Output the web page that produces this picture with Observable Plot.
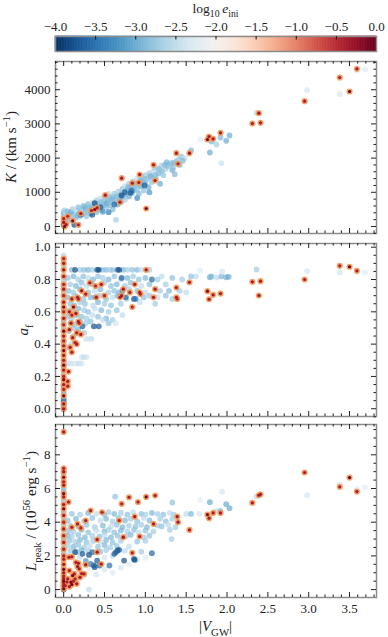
<!DOCTYPE html>
<html><head><meta charset="utf-8">
<script src="https://cdn.jsdelivr.net/npm/d3@7"></script>
<script src="https://cdn.jsdelivr.net/npm/@observablehq/plot@0.6"></script>
<style>
body{margin:0;background:#fff;}
#chart{width:388px;height:637px;}
#chart svg{display:block;overflow:visible;}
</style></head><body><div id="chart"></div>
<script>
// ---------- data: [|V_GW|, value, log10 e_ini] ----------
const kBlue = [
[0,40,-2.7],[0,110,-2.35],[0,190,-2.9],[0.01,260,-2.5],[0,330,-2.8],[0,410,-2.9],[0.01,470,-2.7],[0.02,150,-3.0],[0.03,360,-2.5],[0.04,250,-2.8],[0.05,440,-2.9],
[0.07,310,-2.8],[0.09,420,-3.0],[0.1,200,-2.5],[0.11,510,-2.7],[0.13,350,-2.9],[0.15,250,-2.8],[0.16,450,-2.5],[0.18,560,-2.9],[0.19,380,-3.0],[0.2,290,-2.7],
[0.22,480,-2.8],[0.24,600,-2.9],[0.25,400,-2.5],[0.27,520,-3.0],[0.28,300,-2.8],[0.3,650,-2.9],[0.3,450,-2.7],[0.32,580,-2.8],[0.33,380,-2.9],[0.35,700,-2.5],[0.36,500,-3.0],[0.38,620,-2.8],[0.4,420,-2.9],[0.4,760,-2.7],
[0.42,560,-2.8],[0.44,680,-2.9],[0.45,820,-2.5],[0.47,480,-3.0],[0.48,620,-2.8],[0.5,740,-2.9],[0.5,880,-2.7],[0.52,560,-2.8],[0.53,680,-3.1],[0.55,800,-2.9],[0.55,950,-2.5],[0.57,620,-2.9],[0.58,720,-2.8],[0.6,860,-3.0],[0.6,500,-2.9],[0.62,960,-2.7],
[0.63,760,-2.8],[0.65,880,-2.9],[0.66,640,-3.0],[0.67,1020,-2.7],[0.68,800,-2.8],[0.7,940,-2.9],[0.7,720,-3.1],[0.72,1100,-2.8],[0.73,860,-2.9],[0.75,780,-2.7],[0.75,1180,-2.5],[0.77,960,-2.9],[0.78,1080,-2.8],[0.8,880,-3.0],[0.8,1250,-2.7],
[0.82,1150,-2.9],[0.84,980,-2.8],[0.85,1320,-2.7],[0.86,1060,-3.0],[0.88,1200,-2.9],[0.9,1100,-2.8],[0.9,1400,-2.5],[0.92,960,-2.9],[0.93,1280,-2.8],[0.95,1180,-3.0],[0.96,1450,-2.7],[0.97,1330,-2.9],[0.98,1050,-2.8],[1.0,1250,-2.9],[1.0,1500,-2.7],
[1.02,1380,-2.8],[1.04,1150,-3.0],[1.05,1560,-2.7],[1.07,1450,-2.9],[1.08,1300,-2.8],[1.1,1620,-2.5],[1.12,1500,-2.9],[1.13,1400,-2.8],[1.15,1700,-2.7],[1.16,1550,-2.9],[1.18,1250,-3.0],[1.2,1780,-2.7],[1.2,1620,-2.9],
[1.22,1500,-2.8],[1.24,1800,-2.9],[1.25,1680,-2.7],[1.27,1760,-2.8],[1.28,1820,-2.9],[1.3,1780,-2.7],[1.32,1860,-2.8],[1.33,1650,-3.0],[1.35,1850,-2.9],[1.36,1530,-2.9],[1.38,1900,-2.8],[1.4,1950,-2.7],[1.42,1800,-2.9],[1.44,2040,-2.8],[1.48,2000,-2.5],
[0.05,150,-2.8],[0.08,380,-2.9],[0.12,280,-2.7],[0.17,320,-2.9],[0.23,360,-2.8],[0.26,560,-2.9],[0.29,410,-2.8],[0.34,540,-2.9],[0.37,660,-2.7],[0.43,500,-2.9],[0.46,720,-2.8],[0.51,640,-2.9],[0.56,860,-2.8],[0.59,780,-2.9],[0.64,700,-2.8],[0.69,870,-2.9],[0.74,1000,-2.8],[0.79,1150,-2.9],[0.83,1080,-2.7],[0.87,1250,-2.8],[0.94,1350,-2.9],[0.99,1400,-2.8],[1.06,1480,-2.9],[1.11,1720,-2.7],[1.17,1680,-2.8],[1.26,1880,-2.9],[1.34,1720,-2.8],[1.46,1920,-2.9],
[0.64,195,-2.7],
[1.56,2222,-2.9],[1.67,2544,-2.25],[1.81,2485,-2.9],[1.87,2398,-2.7],[1.79,2164,-3.0],[1.92,2602,-2.9],[1.99,2506,-3.0],[2.03,2661,-3.0],[1.93,1851,-2.4],[2.36,3324,-2.5],[2.98,3985,-2.35],[3.38,3868,-2.35],[3.59,4561,-2.25],[3.69,4591,-2.25],
[0.38,682,-3.8],[0.45,565,-3.7],[0.35,341,-3.8],[0.62,643,-3.6],[0.71,906,-3.8],[0.75,1004,-3.7],[0.82,984,-3.8],[0.83,1053,-3.6],[0.99,1199,-3.7],[0.13,49,-3.8],[0.21,341,-3.5],[0,49,-3.9],[0.55,420,-3.4],[0.48,430,-3.2],[0.9,830,-3.3],[1.05,1000,-3.2]
];
const kRed = [
[1.38,2144,-0.35],[1.54,2144,-0.3],[1.10,1803,-0.35],[1.40,1832,-0.4],[0.71,1413,-0.35],[0.93,1520,-0.3],[0.92,1287,-0.35],[0.84,1267,-0.4],[1.12,1345,-0.35],[1.01,526,-0.1],[0.69,712,-0.4],[0.51,916,-0.35],[0.41,546,-0.35],[0.38,497,-0.1],[0.34,468,-0.4],[0.11,166,-0.1],[0.03,58,-0.35],[0.18,49,-0.4],[0.01,0,-0.1],[0.21,380,-0.35],[0,230,-0.4],[0,120,-0.3],[0.05,300,-0.45],
[1.76,2544,-0.1],[1.78,2632,-0.35],[1.83,2564,-0.35],[1.92,2740,-0.35],[2.39,3313,-0.3],[2.31,3012,-0.35],[2.41,3032,-0.35],[2.95,3664,-0.35],[3.38,4357,-0.4],[3.50,3947,-0.02],[3.59,4611,-0.35]
];

const aBlue = [
[0,0.95,-2.5],[0,0.92,-2.8],[0.005,0.88,-2.7],[0,0.84,-2.35],[0,0.8,-2.8],[0.005,0.79,-2.5],[0,0.76,-2.9],[0,0.72,-2.7],[0,0.68,-2.35],[0,0.62,-2.8],[0,0.58,-2.5],[0,0.54,-2.9],[0,0.5,-2.7],[0,0.41,-2.8],[0,0.35,-2.5],[0,0.29,-2.9],[0,0.22,-2.7],[0,0.1,-3.0],[0,0.05,-3.2],
[0,0.0,-3.8],[0,0.02,-3.6],[0,0.04,-3.8],[0,0.06,-3.4],[0,0.14,-3.5],[0,0.26,-3.2],
[0.1,.86,-2.9],[0.2,.86,-2.7],[0.25,.86,-2.8],[0.3,.86,-2.9],[0.35,.86,-2.7],[0.47,.86,-2.8],[0.52,.86,-2.9],[0.57,.86,-2.7],[0.6,.86,-2.8],[0.73,.86,-2.9],[0.78,.86,-2.7],[0.84,.86,-2.8],[0.9,.86,-2.9],[0.95,.86,-2.5],[1.05,.86,-2.7],
[0.05,.81,-2.8],[0.12,.82,-2.9],[0.18,.8,-2.7],[0.24,.82,-2.8],[0.3,.81,-2.5],[0.36,.8,-2.9],[0.42,.82,-2.8],[0.48,.81,-2.7],[0.55,.8,-2.9],[0.62,.82,-2.8],[0.7,.8,-2.5],[0.78,.81,-2.9],[0.85,.82,-2.7],[0.92,.8,-2.8],[1.0,.81,-2.9],[1.15,.8,-2.7],[1.2,.82,-2.5],[1.33,.81,-2.8],[1.45,.8,-2.7],[1.62,.82,-2.5],
[0.08,.77,-2.7],[0.15,.76,-2.9],[0.22,.78,-2.8],[0.28,.76,-2.5],[0.35,.77,-2.9],[0.5,.78,-2.7],[0.58,.76,-2.8],[0.65,.77,-2.9],[0.75,.76,-2.7],[0.82,.78,-2.8],[0.95,.76,-2.5],[1.05,.77,-2.8],[1.25,.77,-2.7],
[0.06,.73,-2.8],[0.12,.72,-2.7],[0.2,.74,-2.9],[0.3,.72,-2.8],[0.38,.73,-2.5],[0.45,.74,-2.9],[0.55,.72,-2.7],[0.62,.73,-2.8],[0.68,.72,-2.9],[0.8,.74,-2.7],[0.9,.73,-2.8],[1.0,.72,-2.5],[1.18,.73,-2.7],[1.29,.73,-2.9],[1.42,.73,-2.7],[1.5,.72,-2.5],
[0.05,.69,-2.9],[0.14,.7,-2.7],[0.24,.68,-2.8],[0.33,.69,-2.9],[0.44,.7,-2.7],[0.52,.68,-2.8],[0.6,.69,-2.5],[0.66,.7,-2.9],[0.77,.68,-2.7],[0.98,.69,-2.8],[1.05,.7,-2.7],[1.15,.69,-2.5],[1.25,.7,-2.8],[1.33,.68,-2.7],
[0.08,.65,-2.8],[0.13,.64,-2.9],[0.2,.66,-2.7],[0.26,.65,-2.8],[0.36,.64,-2.5],[0.42,.66,-2.9],[0.5,.65,-2.7],[0.58,.64,-2.8],[0.7,.65,-2.7],[0.93,.66,-2.5],[1.12,.65,-2.7],
[0.06,.61,-2.7],[0.12,.6,-2.8],[0.18,.62,-2.9],[0.25,.61,-2.7],[0.3,.6,-2.8],[0.38,.62,-2.5],[0.46,.61,-2.9],[0.55,.6,-2.7],[0.65,.61,-2.8],[0.72,.58,-2.5],
[0.05,.57,-2.8],[0.1,.56,-2.7],[0.16,.58,-2.9],[0.22,.57,-2.8],[0.28,.56,-2.7],[0.35,.58,-2.5],[0.42,.57,-2.8],[0.52,.56,-2.9],[0.6,.55,-2.7],
[0.08,.53,-2.7],[0.13,.52,-2.8],[0.2,.54,-2.9],[0.27,.53,-2.7],[0.33,.54,-2.8],[0.48,.55,-2.5],[0.55,.53,-2.8],[0.64,.53,-2.35],
[0.06,.48,-2.8],[0.12,.5,-2.7],[0.18,.49,-2.9],[0.25,.47,-2.7],
[0.27,.433,-2.35],[0.3,.433,-2.35],[0.34,.433,-2.5],[0.22,.32,-2.35],[0.25,.32,-2.5],[0.28,.32,-2.35],[0.06,.28,-2.5],[0.1,.28,-2.35],[0.14,.28,-2.35],[0.19,.28,-2.5],[0.22,.28,-2.35],[0.05,.38,-2.7],[0.09,.4,-2.5],[0.12,.45,-2.7],
[0.14,0.86,-3.8],[0.41,0.86,-3.7],[0.43,0.86,-3.8],[0.66,0.86,-3.6],[0.68,0.86,-3.8],[0.71,0.81,-3.7],[1.08,0.80,-3.6],[0.39,0.69,-3.5],[0.76,0.69,-3.6],[0.86,0.68,-3.7],[0.88,0.68,-3.5],[0.23,0.51,-3.7],[0.37,0.51,-3.8],[0.43,0.51,-3.7],[0.72,0.73,-3.3],
[1.67,0.856,-2.25],[1.56,0.819,-2.8],[1.79,0.814,-3.0],[1.81,0.819,-2.9],[1.87,0.812,-2.5],[1.93,0.819,-2.9],[1.94,0.848,-2.35],[1.99,0.814,-3.0],[2.02,0.817,-3.0],[2.36,0.862,-2.7],[2.98,0.852,-2.35],[3.38,0.845,-2.35],[3.59,0.848,-2.25],[3.69,0.845,-2.25]
];
const aRed = [
[0,0.0,-0.3],[0,0.03,-0.35],[0,0.08,-0.1],[0,0.12,-0.4],[0,0.15,-0.35],[0,0.18,-0.1],[0,0.2,-0.4],[0,0.24,-0.35],[0,0.27,-0.1],[0,0.3,-0.4],[0,0.33,-0.35],[0,0.36,-0.1],[0,0.39,-0.35],[0,0.42,-0.4],[0,0.45,-0.35],[0,0.48,-0.1],[0,0.52,-0.4],[0,0.56,-0.35],[0,0.6,-0.4],[0,0.63,-0.1],[0,0.66,-0.35],[0,0.7,-0.4],[0,0.74,-0.35],[0,0.77,-0.4],[0,0.82,-0.35],[0,0.86,-0.3],[0,0.9,-0.35],[0,0.93,-0.4],
[0.32,0.78,-0.35],[0.39,0.76,-0.4],[0.46,0.77,-0.35],[0.22,0.73,-0.3],[0.27,0.71,-0.35],[0.18,0.68,-0.4],[0.10,0.68,-0.35],[0.12,0.63,-0.1],[0.07,0.60,-0.35],[0.10,0.58,-0.4],[0.18,0.54,-0.35],[0.09,0.53,-0.3],[0.07,0.49,-0.35],[0.16,0.47,-0.4],[0.21,0.46,-0.35],[0.11,0.44,-0.35],[0.14,0.41,-0.4],[0.16,0.40,-0.35],[0.08,0.38,-0.35],[0.10,0.35,-0.4],[0.06,0.23,-0.35],[0.05,0.17,-0.35],[0.05,0.14,-0.4],
[0.40,0.69,-0.35],[0.50,0.70,-0.4],[0.73,0.74,-0.35],[0.71,0.70,-0.35],[0.81,0.72,-0.4],[0.87,0.77,-0.35],[0.93,0.72,-0.35],[0.94,0.71,-0.4],[1.10,0.69,-0.35],[1.12,0.74,-0.35],[0.84,0.63,-0.4],[0.69,0.69,-0.35],[1.38,0.69,-0.35],[1.39,0.68,-0.4],[1.38,0.75,-0.35],[1.01,0.86,-0.35],[1.54,0.783,-0.35],[0.17,0.69,-0.4],[0.15,0.59,-0.35],[0.19,0.53,-0.4],
[1.76,0.728,-0.1],[1.78,0.678,-0.35],[1.83,0.705,-0.35],[1.92,0.713,-0.35],[2.31,0.786,-0.35],[2.41,0.79,-0.35],[2.39,0.701,-0.3],[2.95,0.80,-0.35],[3.38,0.885,-0.4],[3.50,0.879,-0.02],[3.59,0.854,-0.35]
];

const lBlue = [
[0,0.9,-2.7],[0,1.3,-2.9],[0,1.7,-2.5],[0,2.2,-2.8],[0,2.6,-2.7],[0,3.0,-2.9],[0,3.4,-2.5],[0,3.8,-2.8],[0,4.2,-2.7],[0,4.6,-2.9],[0,5.0,-2.5],[0,5.3,-2.8],[0,5.8,-2.7],[0,6.0,-2.9],[0,6.5,-2.5],[0,6.9,-2.8],[0.005,7.0,-2.7],[0,0.0,-3.8],[0,0.1,-3.6],[0,0.25,-3.8],[0,0.45,-3.4],
[0.1,4.5,-2.8],[0.2,4.45,-2.7],[0.3,4.55,-2.9],[0.4,4.5,-2.5],[0.5,4.45,-2.8],[0.55,4.6,-2.7],[0.62,4.5,-2.9],[0.7,4.55,-2.7],[0.78,4.45,-2.8],[0.85,4.6,-2.5],[0.95,4.5,-2.8],[1.0,4.45,-2.7],[1.08,4.55,-2.9],[1.15,4.5,-2.7],[1.22,4.45,-2.8],[1.3,4.55,-2.5],[1.35,4.45,-2.7],[1.5,4.5,-2.5],[1.66,4.5,-2.35],
[0.05,4.1,-2.8],[0.15,4.2,-2.9],[0.25,4.05,-2.7],[0.35,4.25,-2.8],[0.45,4.1,-2.5],[0.52,4.2,-2.9],[0.6,4.05,-2.7],[0.67,4.25,-2.8],[0.75,4.1,-2.9],[0.82,4.2,-2.7],[0.9,4.05,-2.8],[0.98,4.25,-2.5],[1.05,4.1,-2.9],[1.18,4.2,-2.7],[1.25,4.05,-2.8],[1.33,4.2,-2.7],
[0.08,3.8,-2.7],[0.18,3.75,-2.9],[0.28,3.85,-2.8],[0.38,3.7,-2.7],[0.48,3.8,-2.9],[0.58,3.75,-2.5],[0.65,3.85,-2.8],[0.72,3.7,-2.9],[0.8,3.8,-2.7],[0.88,3.75,-2.8],[0.95,3.85,-2.7],[1.02,3.7,-2.9],[1.15,3.8,-2.7],[1.2,3.75,-2.8],[1.28,3.85,-2.5],[1.37,3.7,-2.7],
[0.06,3.5,-2.8],[0.12,3.45,-2.7],[0.22,3.55,-2.9],[0.3,3.4,-2.8],[0.4,3.5,-2.5],[0.5,3.45,-2.9],[0.55,3.55,-2.7],[0.62,3.4,-2.8],[0.7,3.5,-2.9],[0.78,3.45,-2.7],[0.86,3.55,-2.8],[0.92,3.4,-2.5],[1.0,3.5,-2.8],[1.1,3.45,-2.7],[1.3,3.55,-2.7],
[0.05,3.2,-2.9],[0.1,3.15,-2.7],[0.18,3.25,-2.8],[0.26,3.1,-2.9],[0.35,3.2,-2.7],[0.44,3.15,-2.8],[0.5,3.25,-2.5],[0.58,3.1,-2.9],[0.66,3.2,-2.8],[0.76,3.15,-2.7],[0.82,3.25,-2.9],[0.98,3.1,-2.7],[1.05,3.2,-2.8],[1.32,3.0,-2.7],
[0.07,2.9,-2.8],[0.14,2.85,-2.7],[0.2,2.95,-2.9],[0.28,2.8,-2.8],[0.36,2.9,-2.7],[0.45,2.85,-2.5],[0.52,2.95,-2.9],[0.6,2.8,-2.8],[0.7,2.9,-2.7],[0.9,2.85,-2.8],[1.0,2.9,-2.7],
[0.05,2.6,-2.7],[0.12,2.55,-2.9],[0.18,2.65,-2.8],[0.25,2.5,-2.7],[0.32,2.6,-2.5],[0.42,2.55,-2.8],[0.5,2.65,-2.9],[0.57,2.5,-2.7],[0.65,2.6,-2.8],[0.8,2.55,-2.5],
[0.08,2.3,-2.7],[0.16,2.25,-2.8],[0.22,2.35,-2.9],[0.3,2.3,-2.7],[0.45,2.25,-2.8],[0.52,2.35,-2.7],[0.75,2.3,-2.5],[0.95,2.25,-2.7],
[0.05,2.0,-2.5],[0.1,1.9,-2.35],[0.2,1.95,-2.5],[0.5,1.9,-2.35],[0.6,2.0,-2.5],
[0.2,1.5,-2.35],[0.3,1.3,-2.25],[0.5,1.2,-2.35],[0.6,1.0,-2.25],[0.7,1.3,-2.35],[0.8,1.5,-2.25],[0.9,1.8,-2.35],[1.0,1.9,-2.25],[0.4,0.9,-2.35],[0.25,0.8,-2.25],[0.15,0.9,-2.35],[0.31,0.0,-2.5],
[0.14,2.22,-3.8],[0.23,2.12,-3.7],[0.31,2.06,-3.8],[0.35,2.22,-3.6],[0.41,1.72,-3.7],[0.37,1.43,-3.8],[0.38,1.33,-3.7],[0.44,1.43,-3.6],[0.62,2.12,-3.7],[0.66,2.32,-3.8],[0.68,2.36,-3.7],[0.64,2.22,-3.6],[0.74,1.72,-3.8],[0.86,1.82,-3.7],[0.87,1.76,-3.8],[1.08,2.16,-3.6],[0.56,1.43,-3.5],[0.33,1.52,-3.4],[0.27,1.7,-3.2],
[1.56,4.49,-2.9],[1.67,5.33,-2.25],[1.79,5.19,-3.0],[1.87,4.67,-2.5],[1.92,4.67,-2.9],[1.94,5.82,-2.35],[1.99,5.07,-3.0],[2.03,4.83,-3.0],[2.36,5.52,-2.5],[2.98,5.60,-2.35],[3.38,6.25,-2.35],[3.59,5.98,-2.25],[3.69,6.07,-2.25],[0.63,5.52,-2.8],[1.33,5.17,-2.8]
];
const lRed = [
[0,0.05,-0.1],[0,0.2,-0.35],[0,0.35,-0.4],[0,0.5,-0.1],[0,0.65,-0.35],[0,0.8,-0.4],[0,1.0,-0.35],[0,1.2,-0.1],[0,1.5,-0.35],[0,1.8,-0.4],[0,2.0,-0.35],[0,2.4,-0.4],[0,2.8,-0.35],[0,3.2,-0.4],[0,3.6,-0.35],[0,4.0,-0.4],[0,4.4,-0.35],[0,4.8,-0.1],[0,5.05,-0.35],[0,5.5,-0.4],[0,5.7,-0.1],[0,6.2,-0.35],[0,6.4,-0.4],[0,6.67,-0.1],[0,7.0,-0.35],[0,7.2,-0.4],[0,9.36,-0.35],
[0.06,5.2,-0.35],[0.07,1.13,-0.35],[0.11,0.83,-0.1],[0.05,0.63,-0.35],[0.14,0.63,-0.4],[0.20,0.73,-0.35],[0.09,0.44,-0.1],[0.16,0.34,-0.35],[0.02,0.24,-0.4],[0.07,0.18,-0.35],[0.13,0.93,-0.35],[0.15,1.62,-0.4],[0.17,1.37,-0.35],[0.19,1.23,-0.35],[0.1,0.3,-0.1],[0.04,0.45,-0.35],[0.12,0.5,-0.4],[0.22,0.95,-0.35],[0.065,1.92,-0.35],[0.1,1.95,-0.4],[0.18,1.56,-0.35],[0.27,1.48,-0.35],[0.25,0.93,-0.4],
[0.33,4.69,-0.35],[0.47,4.59,-0.4],[0.87,4.33,-0.35],[1.39,4.33,-0.35],[0.10,3.70,-0.4],[0.17,3.90,-0.35],[0.27,4.10,-0.35],[0.68,4.10,-0.4],[1.10,3.90,-0.35],[1.40,4.0,-0.35],[1.54,3.54,-0.35],[0.73,3.11,-0.3],[0.93,3.15,-0.35],[0.41,2.22,-0.35],[0.84,2.18,-0.4],[0.46,1.52,-0.35],[0.80,5.48,-0.35],[0.71,5.09,-0.4],[1.01,5.50,-0.1],[1.12,5.58,-0.35],[0.91,5.2,-0.35],[0.21,3.66,-0.4],[0.41,2.97,-0.35],
[1.76,4.45,-0.1],[1.78,4.24,-0.35],[1.83,4.55,-0.35],[1.92,4.55,-0.35],[2.31,5.15,-0.35],[2.39,5.60,-0.3],[2.41,5.66,-0.35],[2.95,6.95,-0.35],[3.38,6.10,-0.4],[3.50,6.65,-0.02],[3.59,5.82,-0.35]
];

// axes ticks
const xMajor = [0, 0.5, 1, 1.5, 2, 2.5, 3, 3.5];
const xMinor = [-0.1,0.1,0.2,0.3,0.4,0.6,0.7,0.8,0.9,1.1,1.2,1.3,1.4,1.6,1.7,1.8,1.9,2.1,2.2,2.3,2.4,2.6,2.7,2.8,2.9,3.1,3.2,3.3,3.4,3.6,3.7,3.8];
const kMajor = [0, 1000, 2000, 3000, 4000];
const kMinor = [-200,200,400,600,800,1200,1400,1600,1800,2200,2400,2600,2800,3200,3400,3600,3800,4200,4400,4600,4800];
const aMajor = [0, 0.2, 0.4, 0.6, 0.8, 1.0];
const aMinor = [-0.05,0.05,0.1,0.15,0.25,0.3,0.35,0.45,0.5,0.55,0.65,0.7,0.75,0.85,0.9,0.95];
const lMajor = [0, 2, 4, 6, 8];
const lMinor = [0.5,1,1.5,2.5,3,3.5,4.5,5,5.5,6.5,7,7.5,8.5,9,9.5];
const cbTicks = [-4, -3.5, -3, -2.5, -2, -1.5, -1, -0.5, 0];

const FONT = "'Liberation Serif', 'DejaVu Serif', serif";
const FS = 13, LFS = 15;
const W = 388, ML = 55, MR = 12;
const xDomain = [-0.1, 3.83];
const colorOpt = {type: "linear", scheme: "rdbu", reverse: true, domain: [-4, 0]};
const root = d3.select("#chart");

function rich(t, parts, fs) {
  let shift = 0;
  for (const p of parts) {
    const target = p.sub ? fs * 0.3 : p.sup ? -fs * 0.42 : 0;
    const ts = t.append("tspan").text(p.t).attr("dy", target - shift);
    shift = target;
    if (p.sub || p.sup) ts.attr("font-size", fs * 0.72);
    if (p.i) ts.attr("font-style", "italic");
  }
}

function ticks(major, minor, fh, fw, axis) {
  const M = 5, m = 2.6, col = "#222";
  if (axis === "x") return [
    Plot.tickX(major, {x: d => d, insetTop: fh - M, stroke: col}),
    Plot.tickX(major, {x: d => d, insetBottom: fh - M, stroke: col}),
    Plot.tickX(minor, {x: d => d, insetTop: fh - m, stroke: col}),
    Plot.tickX(minor, {x: d => d, insetBottom: fh - m, stroke: col})
  ];
  return [
    Plot.tickY(major, {y: d => d, insetRight: fw - M, stroke: col}),
    Plot.tickY(major, {y: d => d, insetLeft: fw - M, stroke: col}),
    Plot.tickY(minor, {y: d => d, insetRight: fw - m, stroke: col}),
    Plot.tickY(minor, {y: d => d, insetLeft: fw - m, stroke: col})
  ];
}

function panel({blue, red, yDomain, yMajor, yMinor, yFmt, height, mt, mb, xLabels}) {
  const fh = height - mt - mb, fw = W - ML - MR;
  return Plot.plot({
    width: W, height, marginLeft: ML, marginRight: MR, marginTop: mt, marginBottom: mb,
    x: {domain: xDomain, axis: null},
    y: {domain: yDomain, axis: null},
    color: colorOpt,
    style: {fontFamily: FONT, fontSize: FS + "px", color: "#222", background: "transparent"},
    marks: [
      Plot.dot(blue, {x: d => d[0], y: d => d[1], fill: d => d[2], r: 2.9, fillOpacity: 0.7}),
      Plot.dot(red, {x: d => d[0], y: d => d[1], fill: "#f39552", r: 3.1, fillOpacity: 0.88}),
      Plot.dot(red, {x: d => d[0], y: d => d[1], fill: d => d[2], r: 1.6}),
      Plot.frame({stroke: "#8c8c8c", strokeWidth: 1.5}),
      ...ticks(xMajor, xMinor, fh, fw, "x"),
      ...ticks(yMajor, yMinor, fh, fw, "y"),
      Plot.axisY(yMajor, {tickSize: 0, tickPadding: 5, label: null, tickFormat: yFmt, fontSize: FS, fontFamily: FONT}),
      xLabels ? Plot.axisX(xMajor, {tickSize: 0, tickPadding: 6, label: null, tickFormat: d3.format(".1f"), fontSize: FS, fontFamily: FONT}) : null
    ]
  });
}

// colorbar
const cbSteps = d3.range(-4, 0, 0.02);
const cb = Plot.plot({
  width: W, height: 58, marginLeft: ML, marginRight: MR, marginTop: 36, marginBottom: 7,
  x: {domain: [-4, 0], axis: null},
  color: colorOpt,
  style: {fontFamily: FONT, fontSize: FS + "px", color: "#222"},
  marks: [
    Plot.barX(cbSteps, {x1: d => d, x2: d => d + 0.02, fill: d => d + 0.01, stroke: d => d + 0.01, strokeWidth: 0.6}),
    Plot.frame({stroke: "#8c8c8c", strokeWidth: 1.5}),
    Plot.tickX(cbTicks.slice(1, -1), {x: d => d, insetBottom: 15 - 3.5, stroke: "#111"}),
    Plot.axisX(cbTicks, {anchor: "top", tickSize: 0, tickPadding: 6, label: null, fontFamily: FONT, tickFormat: d => d3.format(".1f")(d).replace("-", "\u2212"), fontSize: FS})
  ]
});
root.node().appendChild(cb);
const cbt = d3.select(cb).append("text").attr("x", 215.5).attr("y", 13).attr("text-anchor", "middle")
  .attr("font-family", FONT).attr("font-size", 13.5).attr("fill", "#222");
rich(cbt, [{t: "log"}, {t: "10", sub: true}, {t: "\u2009"}, {t: "e", i: true}, {t: "ini", sub: true}], 13.5);

const p1 = panel({blue: kBlue, red: kRed, yDomain: [-205, 4825], yMajor: kMajor, yMinor: kMinor, yFmt: d3.format("d"), height: 180, mt: 3, mb: 5});
const p2 = panel({blue: aBlue, red: aRed, yDomain: [-0.048, 1.023], yMajor: aMajor, yMinor: aMinor, yFmt: d3.format(".1f"), height: 182, mt: 5, mb: 4});
const p3 = panel({blue: lBlue, red: lRed, yDomain: [-0.47, 9.8], yMajor: lMajor, yMinor: lMinor, yFmt: d3.format("d"), height: 217, mt: 4, mb: 40, xLabels: true});
[p1, p2, p3].forEach(p => root.node().appendChild(p));

function yLabel(svg, x, y, parts) {
  const t = d3.select(svg).append("text").attr("transform", `translate(${x},${y}) rotate(-90)`)
    .attr("text-anchor", "middle").attr("font-family", FONT).attr("font-size", LFS).attr("fill", "#222");
  rich(t, parts, LFS);
}
yLabel(p1, 16, 89, [{t: "K", i: true}, {t: " / (km s"}, {t: "\u22121", sup: true}, {t: ")"}]);
yLabel(p2, 28, 92, [{t: "a", i: true}, {t: "f", sub: true}]);
yLabel(p3, 36, 91, [{t: "L", i: true}, {t: "peak", sub: true}, {t: " / (10"}, {t: "56", sup: true}, {t: " erg s"}, {t: "\u22121", sup: true}, {t: ")"}]);
const xl = d3.select(p3).append("text").attr("x", 215.5).attr("y", 211).attr("text-anchor", "middle")
  .attr("font-family", FONT).attr("font-size", LFS).attr("fill", "#222");
rich(xl, [{t: "|"}, {t: "V", i: true}, {t: "GW", sub: true}, {t: "|"}], LFS);
</script></body></html>
